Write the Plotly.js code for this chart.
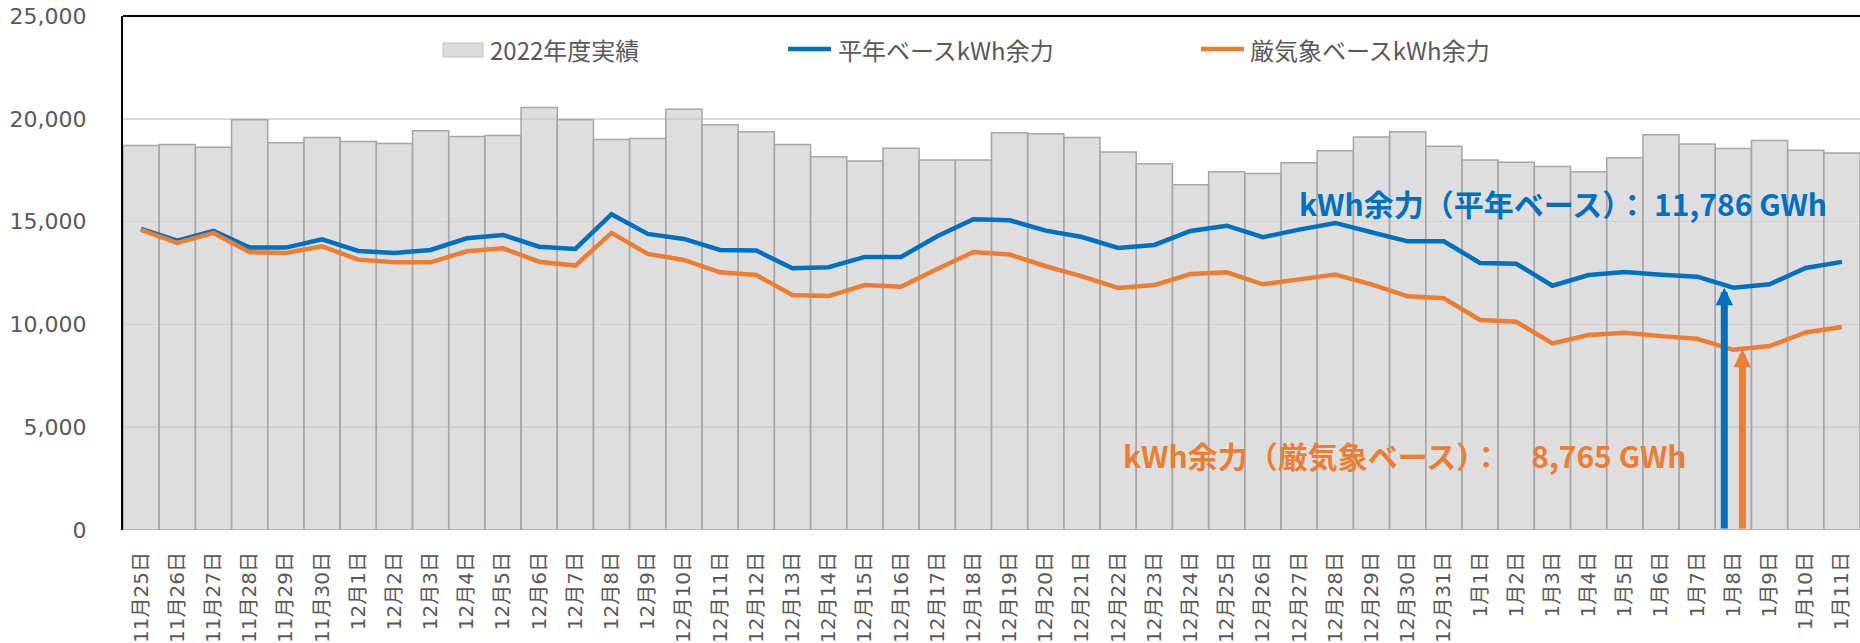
<!DOCTYPE html>
<html>
<head>
<meta charset="utf-8">
<script src="https://cdn.plot.ly/plotly-3.0.1.min.js"></script>
<style>html,body{margin:0;padding:0;background:#fff;}#chart{width:1860px;height:643px;}</style>
</head>
<body>
<div id="chart"></div>
<script>
const dates = ['11月25日','11月26日','11月27日','11月28日','11月29日','11月30日',
  '12月1日','12月2日','12月3日','12月4日','12月5日','12月6日','12月7日','12月8日','12月9日','12月10日',
  '12月11日','12月12日','12月13日','12月14日','12月15日','12月16日','12月17日','12月18日','12月19日','12月20日',
  '12月21日','12月22日','12月23日','12月24日','12月25日','12月26日','12月27日','12月28日','12月29日','12月30日','12月31日',
  '1月1日','1月2日','1月3日','1月4日','1月5日','1月6日','1月7日','1月8日','1月9日','1月10日','1月11日'];

const actual2022 = [18700,18750,18620,19950,18830,19090,18900,18800,19420,19140,19190,20550,19950,18990,
  19040,20470,19710,19370,18750,18150,17950,18570,18000,18000,19320,19270,19090,18380,17810,16790,17420,
  17340,17860,18440,19120,19370,18670,18000,17890,17680,17420,18100,19220,18780,18560,18950,18470,18340];

const normalBase = [14640,14075,14545,13735,13735,14140,13570,13475,13620,14190,14350,13780,13670,15360,
  14400,14155,13620,13590,12730,12780,13280,13280,14290,15115,15065,14560,14250,13720,13865,14545,14800,
  14240,14610,14935,14480,14040,14040,12990,12950,11880,12400,12550,12420,12320,11786,11950,12745,13040];

const severeBase = [14595,13960,14450,13510,13475,13800,13150,13020,13020,13555,13700,13050,12860,14450,
  13430,13135,12535,12400,11430,11380,11915,11835,12695,13520,13395,12830,12340,11770,11915,12450,12535,
  11950,12190,12420,11950,11365,11270,10213,10130,9075,9480,9595,9430,9300,8765,8945,9610,9870];

const seriesNames = ['2022年度実績','平年ベースkWh余力','厳気象ベースkWh余力'];

const BLUE = '#0070C0', ORANGE = '#ED7D31', GRAY_TXT = '#595959';
const W = 1860, H = 643, L = 123, R = 0, T = 16, B = 113;
const pw = W - L - R, ph = H - T - B;
const px = x => (x - L) / pw;
const py = y => (H - B - y) / ph;

const minIdx = arr => arr.indexOf(Math.min(...arr));
const iN = minIdx(normalBase), iS = minIdx(severeBase);
const fmt = v => v.toLocaleString('en-US');

const traces = [
  {type:'bar', x:dates, y:actual2022, name:seriesNames[0],
   marker:{color:'rgba(200,200,200,0.6)', line:{color:'#A6A6A6', width:1.5}}, hoverinfo:'x+y'},
  {type:'scatter', mode:'lines', x:dates, y:normalBase, name:seriesNames[1],
   line:{color:BLUE, width:4.5}},
  {type:'scatter', mode:'lines', x:dates, y:severeBase, name:seriesNames[2],
   line:{color:ORANGE, width:4.5}}
];

const legFont = {family:'Noto Sans CJK JP, sans-serif', size:24, color:GRAY_TXT};
const shapes = [
  {type:'line', xref:'paper', yref:'paper', x0:0, x1:1, y0:1, y1:1, line:{color:'#000', width:2}},
  {type:'rect', xref:'paper', yref:'paper', x0:px(443), x1:px(483), y0:py(57), y1:py(43),
   fillcolor:'#DCDCDC', line:{color:'#BFBFBF', width:1}},
  {type:'line', xref:'paper', yref:'paper', x0:px(788), x1:px(831), y0:py(49), y1:py(49), line:{color:BLUE, width:4.5}},
  {type:'line', xref:'paper', yref:'paper', x0:px(1201), x1:px(1244), y0:py(49), y1:py(49), line:{color:ORANGE, width:4.5}}
];

const annFont = c => ({family:'Noto Sans CJK JP, sans-serif', size:30, color:c, weight:'bold'});
const annotations = [
  {xref:'paper', yref:'paper', x:px(488), y:py(50), xanchor:'left', yanchor:'middle', text:seriesNames[0], showarrow:false, font:legFont},
  {xref:'paper', yref:'paper', x:px(836), y:py(50), xanchor:'left', yanchor:'middle', text:seriesNames[1], showarrow:false, font:legFont},
  {xref:'paper', yref:'paper', x:px(1248), y:py(50), xanchor:'left', yanchor:'middle', text:seriesNames[2], showarrow:false, font:legFont},
  {xref:'paper', yref:'paper', x:px(1563), y:py(203), xanchor:'center', yanchor:'middle',
   text:'<b>kWh余力（平年ベース）： ' + fmt(normalBase[iN]) + ' GWh</b>', showarrow:false, font:annFont(BLUE)},
  {xref:'paper', yref:'paper', x:px(1405), y:py(455), xanchor:'center', yanchor:'middle',
   text:'<b>kWh余力（厳気象ベース）：　' + fmt(severeBase[iS]) + ' GWh</b>', showarrow:false, font:annFont(ORANGE)},
  {xref:'x', yref:'y', x:iN - 0.25, y:normalBase[iN], axref:'x', ayref:'y', ax:iN - 0.25, ay:0,
   text:'', showarrow:true, arrowhead:2, arrowsize:0.5, arrowwidth:7, arrowcolor:BLUE, standoff:0},
  {xref:'x', yref:'y', x:iS + 0.25, y:severeBase[iS], axref:'x', ayref:'y', ax:iS + 0.25, ay:0,
   text:'', showarrow:true, arrowhead:2, arrowsize:0.5, arrowwidth:7, arrowcolor:ORANGE, standoff:0}
];

const layout = {
  width:W, height:H, margin:{l:L, r:R, t:T, b:B, pad:0},
  paper_bgcolor:'#fff', plot_bgcolor:'#fff',
  showlegend:false, bargap:0,
  xaxis:{type:'category', range:[-0.5, dates.length - 0.5], tickangle:-90, ticks:'', showgrid:false,
    zeroline:false, showline:false, ticklabelstandoff:17,
    tickfont:{family:'DejaVu Sans, Noto Sans CJK JP, sans-serif', size:20, color:GRAY_TXT}},
  yaxis:{range:[0, 25000], dtick:5000, tickformat:',d', ticks:'', showgrid:true, gridcolor:'#D9D9D9', gridwidth:1.5,
    zeroline:false, showline:true, linecolor:'#000', linewidth:2, ticklabelstandoff:30,
    tickfont:{family:'DejaVu Sans, sans-serif', size:22, color:GRAY_TXT}},
  shapes:shapes, annotations:annotations
};

Plotly.newPlot('chart', traces, layout, {displayModeBar:false, staticPlot:true});
</script>
</body>
</html>
